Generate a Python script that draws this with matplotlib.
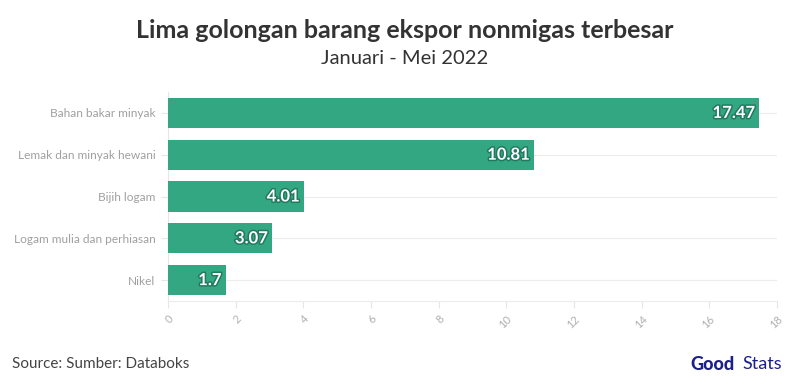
import matplotlib.pyplot as plt
import matplotlib.patheffects as pe

# data
categories = ['Bahan bakar minyak', 'Lemak dan minyak hewani', 'Bijih logam',
              'Logam mulia dan perhiasan', 'Nikel']
values = [17.47, 10.81, 4.01, 3.07, 1.7]
value_labels = ['17.47', '10.81', '4.01', '3.07', '1.7']
xticks = [0, 2, 4, 6, 8, 10, 12, 14, 16, 18]

plt.rcParams['font.family'] = ['Lato', 'DejaVu Sans']

fig = plt.figure(figsize=(8.1, 3.9), dpi=100)
ax = fig.add_axes([168/810, 1-301/390, 609/810, 209/390])

ypos = list(range(len(categories)))
ax.barh(ypos, values, height=0.72, color='#33a782', zorder=3)
ax.set_ylim(len(categories)-0.5, -0.5)
ax.set_xlim(0, 18)

for y, v, lab in zip(ypos, values, value_labels):
    ax.text(v - 0.12, y, lab, ha='right', va='center', color='white',
            fontsize=12, fontweight='bold', zorder=4,
            path_effects=[pe.withStroke(linewidth=2.2, foreground='#227a5e')])

ax.set_yticks(ypos)
ax.set_yticklabels(categories, fontsize=8.6, color='#a0a0a0')
ax.set_xticks(xticks)
ax.set_xticklabels([str(t) for t in xticks], fontsize=8, color='#b0b0b0',
                   rotation=45, ha='right', va='top', rotation_mode='anchor')
ax.tick_params(axis='y', length=5, color='#e6e6e6', pad=4)
ax.tick_params(axis='x', length=5, color='#e6e6e6', pad=4)
ax.grid(axis='y', color='#ececec', linewidth=0.8, zorder=0)
ax.grid(axis='x', visible=False)
for s in ['top', 'right']:
    ax.spines[s].set_visible(False)
ax.spines['left'].set_color('#e6e6e6')
ax.spines['bottom'].set_color('#ececec')

fig.text(0.5, 1-30/390, 'Lima golongan barang ekspor nonmigas terbesar',
         ha='center', va='center', fontsize=18, fontweight='bold', color='#333333')
fig.text(0.5, 1-58/390, 'Januari - Mei 2022', ha='center', va='center',
         fontsize=14.5, color='#333333')
fig.text(12/810, 1-364/390, 'Source: Sumber: Databoks', ha='left', va='center',
         fontsize=11, color='#444444')

# logo
fig.text(690/810, 1-364/390, 'Good', ha='left', va='center', fontsize=13,
         fontweight='black', color='#1b1f8a')
fig.text(742/810, 1-364/390, 'Stats', ha='left', va='center', fontsize=13,
         fontweight='normal', color='#1b1f8a')

fig.savefig('out.png', dpi=100)
